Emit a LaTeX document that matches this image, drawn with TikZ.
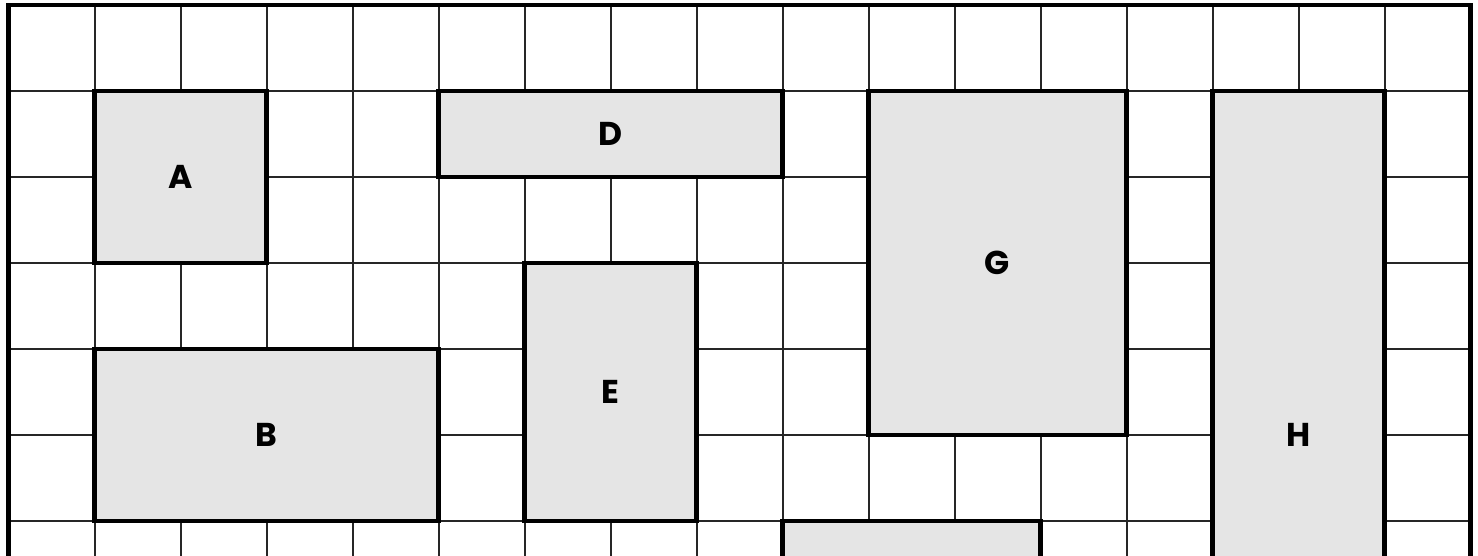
\documentclass[tikz,border=0pt]{standalone}
\usepackage{fontspec}
\setmainfont{Poppins}
\definecolor{boxgray}{HTML}{E5E5E5}
\tikzset{
  gridline/.style={line width=2pt, draw=black!85},
  outerline/.style={line width=4.5pt, draw=black},
  blockbox/.style={draw=black, line width=4.5pt, fill=boxgray, rectangle, inner sep=0pt,
    font=\fontsize{33}{33}\selectfont\bfseries, text=black},
}
\begin{document}
\begin{tikzpicture}[x=1pt,y=-1pt]
\useasboundingbox (0,0) rectangle (1478,555);
\clip (0,0) rectangle (1478,555);
\fill[white] (0,0) rectangle (1478,555);
% grid
\foreach \i in {1,...,16} {
  \draw[gridline] ({8.5+86*\i},5) -- ({8.5+86*\i},620);
}
\foreach \j in {1,...,7} {
  \draw[gridline] (8.5,{5+86*\j}) -- (1470.5,{5+86*\j});
}
% outer frame
\draw[outerline] (8.5,620) -- (8.5,5) -- (1470.5,5) -- (1470.5,620);
% blocks (column lines at 8.5+86k, row lines at 5+86k)
\node[blockbox, minimum width=172pt, minimum height=172pt] (A) at (180.5,177) {A};
\node[blockbox, minimum width=344pt, minimum height=86pt]  (D) at (610.5,134) {D};
\node[blockbox, minimum width=258pt, minimum height=344pt] (G) at (997.5,263) {G};
\node[blockbox, minimum width=172pt, minimum height=688pt] (H) at (1298.5,435) {H};
\node[blockbox, minimum width=344pt, minimum height=172pt] (B) at (266.5,435) {B};
\node[blockbox, minimum width=172pt, minimum height=258pt] (E) at (610.5,392) {E};
\node[blockbox, minimum width=258pt, minimum height=258pt] (F) at (911.5,650) {};
\end{tikzpicture}
\end{document}
